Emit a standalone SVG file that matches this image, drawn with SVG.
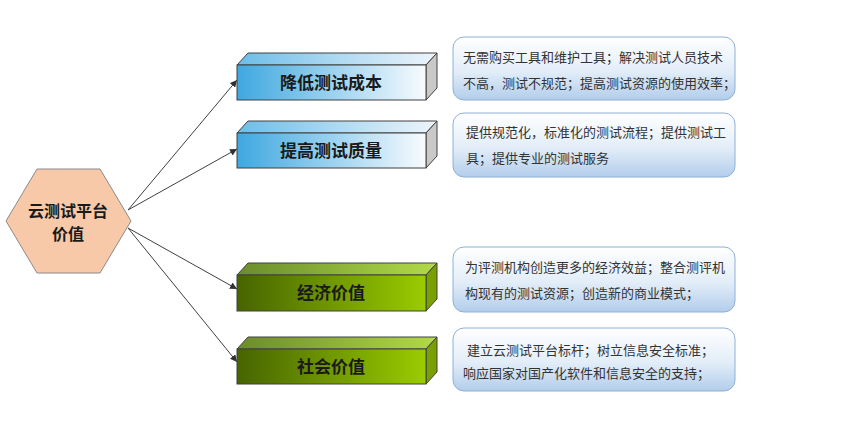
<svg xmlns="http://www.w3.org/2000/svg" width="853" height="438" viewBox="0 0 853 438">
<defs>
<linearGradient id="blueFront" x1="0" y1="0" x2="1" y2="0"><stop offset="0" stop-color="#3ea8e0"/><stop offset="1" stop-color="#f8fbfe"/></linearGradient>
<linearGradient id="blueTop" x1="0" y1="0" x2="1" y2="0"><stop offset="0" stop-color="#6cbde8"/><stop offset="1" stop-color="#eef5fb"/></linearGradient>
<linearGradient id="greenFront" x1="0" y1="0" x2="1" y2="0"><stop offset="0" stop-color="#466400"/><stop offset="1" stop-color="#9acc00"/></linearGradient>
<linearGradient id="greenTop" x1="0" y1="0" x2="1" y2="0"><stop offset="0" stop-color="#6a8c2c"/><stop offset="1" stop-color="#b2da48"/></linearGradient>
<linearGradient id="note" x1="0" y1="0" x2="0" y2="1"><stop offset="0" stop-color="#ffffff"/><stop offset="0.55" stop-color="#e2edf8"/><stop offset="1" stop-color="#b2cdeb"/></linearGradient>
<marker id="arr" viewBox="0 0 10 10" refX="10" refY="5" markerWidth="7" markerHeight="7" orient="auto" markerUnits="userSpaceOnUse"><path d="M0,0 L10,5 L0,10 z" fill="#303030"/></marker>
<style>
.edge{stroke:#404040;stroke-width:1;fill:none;marker-end:url(#arr)}
.bf{fill:url(#blueFront);stroke:#404040;stroke-width:1}
.bt{fill:url(#blueTop);stroke:#404040;stroke-width:1}
.bs{fill:#c9c9c9;stroke:#404040;stroke-width:1}
.gf{fill:url(#greenFront);stroke:#404040;stroke-width:1}
.gt{fill:url(#greenTop);stroke:#404040;stroke-width:1}
.gs{fill:#78a000;stroke:#404040;stroke-width:1}
.title{font-family:"Noto Sans CJK SC",sans-serif;font-size:17px;font-weight:bold;fill:#1a1a1a;text-anchor:middle}
.hub{font-family:"Noto Sans CJK SC",sans-serif;font-size:16px;font-weight:bold;fill:#1a1a1a;text-anchor:middle}
.note{fill:url(#note);stroke:#8eb0d4;stroke-width:1}
.nt{font-family:"Noto Sans CJK SC",sans-serif;font-size:13px;fill:#333333}
</style>
</defs>
<g id="connectors">
<line class="edge" x1="128" y1="210" x2="237" y2="80"/>
<line class="edge" x1="128" y1="210" x2="237" y2="149"/>
<line class="edge" x1="128" y1="228" x2="237" y2="289"/>
<line class="edge" x1="128" y1="228" x2="237" y2="362"/>
</g>
<g id="hub">
<polygon points="6,221 37,169 100,169 131,221 100,273 37,273" fill="#f8c9a8" stroke="#8a8a8a" stroke-width="1"/>
<text class="hub" x="68" y="217">云测试平台</text>
<text class="hub" x="68" y="240">价值</text>
</g>
<g id="n1">
<polygon class="bt" points="237,65 248,53 437,53 426,65"/>
<polygon class="bs" points="426,65 437,53 437,88 426,100"/>
<rect class="bf" x="237" y="65" width="189" height="35"/>
<text class="title" x="331" y="89">降低测试成本</text>
</g>
<g id="n2">
<polygon class="bt" points="237,133 248,121 437,121 426,133"/>
<polygon class="bs" points="426,133 437,121 437,156 426,168"/>
<rect class="bf" x="237" y="133" width="189" height="35"/>
<text class="title" x="331" y="157">提高测试质量</text>
</g>
<g id="n3">
<polygon class="gt" points="237,275 248,263 437,263 426,275"/>
<polygon class="gs" points="426,275 437,263 437,299 426,311"/>
<rect class="gf" x="237" y="275" width="189" height="36"/>
<text class="title" x="331" y="299">经济价值</text>
</g>
<g id="n4">
<polygon class="gt" points="237,349 248,337 437,337 426,349"/>
<polygon class="gs" points="426,349 437,337 437,372 426,384"/>
<rect class="gf" x="237" y="349" width="189" height="35"/>
<text class="title" x="331" y="373">社会价值</text>
</g>
<g id="d1">
<rect class="note" x="453" y="37" width="282" height="63" rx="11"/>
<text class="nt" x="463" y="62">无需购买工具和维护工具；解决测试人员技术</text>
<text class="nt" x="463" y="88">不高，测试不规范；提高测试资源的使用效率；</text>
</g>
<g id="d2">
<rect class="note" x="453" y="113" width="282" height="64" rx="11"/>
<text class="nt" x="466" y="137">提供规范化，标准化的测试流程；提供测试工</text>
<text class="nt" x="466" y="163">具；提供专业的测试服务</text>
</g>
<g id="d3">
<rect class="note" x="453" y="247" width="282" height="65" rx="11"/>
<text class="nt" x="465" y="272">为评测机构创造更多的经济效益；整合测评机</text>
<text class="nt" x="465" y="298">构现有的测试资源；创造新的商业模式；</text>
</g>
<g id="d4">
<rect class="note" x="453" y="328" width="282" height="63" rx="11"/>
<text class="nt" x="467" y="355">建立云测试平台标杆；树立信息安全标准；</text>
<text class="nt" x="463" y="378">响应国家对国产化软件和信息安全的支持；</text>
</g>
</svg>
